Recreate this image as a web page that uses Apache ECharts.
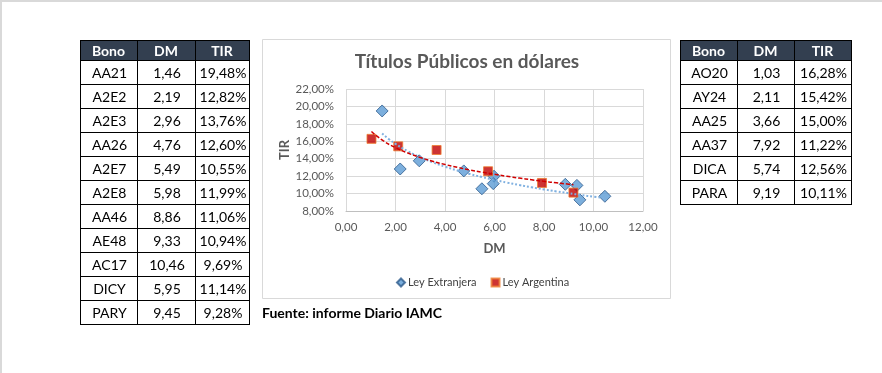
<!DOCTYPE html>
<html>
<head>
<meta charset="utf-8">
<script src="https://cdn.jsdelivr.net/npm/echarts@6/dist/echarts.min.js"></script>
<style>
html,body{margin:0;padding:0;background:#fff;}
#c{width:882px;height:373px;}
</style>
</head>
<body>
<div id="c"></div>
<script>
// ---- Data ----
const tableHeaders = ['Bono', 'DM', 'TIR'];
const bonosExt = ['AA21', 'A2E2', 'A2E3', 'AA26', 'A2E7', 'A2E8', 'AA46', 'AE48', 'AC17', 'DICY', 'PARY'];
const dmExt = [1.46, 2.19, 2.96, 4.76, 5.49, 5.98, 8.86, 9.33, 10.46, 5.95, 9.45];
const tirExt = [19.48, 12.82, 13.76, 12.60, 10.55, 11.99, 11.06, 10.94, 9.69, 11.14, 9.28];
const bonosArg = ['AO20', 'AY24', 'AA25', 'AA37', 'DICA', 'PARA'];
const dmArg = [1.03, 2.11, 3.66, 7.92, 5.74, 9.19];
const tirArg = [16.28, 15.42, 15.00, 11.22, 12.56, 10.11];
// trend lines (Excel log trendlines)
const trendExtX = [1.46, 1.75, 2, 2.5, 3, 3.5, 4, 4.5, 5, 5.5, 6, 6.5, 7, 7.5, 8, 8.5, 9, 9.5, 10, 10.46];
const trendExtY = [16.89, 16.20, 15.70, 14.86, 14.17, 13.59, 13.09, 12.65, 12.25, 11.89, 11.56, 11.26, 10.98, 10.72, 10.48, 10.25, 10.04, 9.83, 9.64, 9.47];
const trendArgX = [1.03, 1.5, 2, 2.5, 3, 3.5, 4, 4.5, 5, 5.5, 6, 6.5, 7, 7.5, 8, 8.5, 9, 9.19];
const trendArgY = [17.12, 16.07, 15.27, 14.65, 14.14, 13.71, 13.34, 13.01, 12.71, 12.45, 12.21, 11.98, 11.78, 11.58, 11.40, 11.23, 11.08, 11.02];
const chartTitle = 'Títulos Públicos en dólares';
const sourceText = 'Fuente: informe Diario IAMC';
const legendNames = ['Ley Extranjera', 'Ley Argentina'];

// ---- Helpers ----
const FONT = 'Lato, "Liberation Sans", sans-serif';
const fmtNum = v => v.toFixed(2).replace('.', ',');
const fmtPct = v => fmtNum(v) + '%';

function buildTable(colEdges, y0, headerH, rowH, rows) {
  const els = [];
  const width = colEdges[colEdges.length - 1] - colEdges[0];
  const totalH = headerH + rowH * rows.length;
  els.push({type: 'rect', shape: {x: colEdges[0], y: y0, width: width, height: headerH},
    style: {fill: '#333f50', stroke: null}, z: 10});
  tableHeaders.forEach((h, i) => {
    els.push({type: 'text', z: 12, style: {text: h, x: (colEdges[i] + colEdges[i + 1]) / 2, y: y0 + headerH / 2 + 1,
      textAlign: 'center', textVerticalAlign: 'middle', fill: '#ffffff', font: 'bold 14px ' + FONT}});
  });
  for (let r = 0; r <= rows.length; r++) {
    const yy = y0 + headerH + r * rowH + 0.5;
    els.push({type: 'line', z: 11, shape: {x1: colEdges[0], y1: yy, x2: colEdges[colEdges.length - 1], y2: yy},
      style: {stroke: '#000', lineWidth: 1}});
  }
  els.push({type: 'line', z: 11, shape: {x1: colEdges[0], y1: y0 + 0.5, x2: colEdges[colEdges.length - 1], y2: y0 + 0.5},
    style: {stroke: '#000', lineWidth: 1}});
  colEdges.forEach(cx => {
    els.push({type: 'line', z: 11, shape: {x1: cx + 0.5, y1: y0, x2: cx + 0.5, y2: y0 + totalH + 1},
      style: {stroke: '#000', lineWidth: 1}});
  });
  rows.forEach((row, r) => {
    row.forEach((t, i) => {
      els.push({type: 'text', z: 12, style: {text: t, x: (colEdges[i] + colEdges[i + 1]) / 2 + 1,
        y: y0 + headerH + r * rowH + rowH / 2 + 1, textAlign: 'center', textVerticalAlign: 'middle',
        fill: '#000', font: '14px ' + FONT}});
    });
  });
  return els;
}

const rowsExt = bonosExt.map((b, i) => [b, fmtNum(dmExt[i]), fmtPct(tirExt[i])]);
const rowsArg = bonosArg.map((b, i) => [b, fmtNum(dmArg[i]), fmtPct(tirArg[i])]);

const graphics = [
  {type: 'line', shape: {x1: 0, y1: 1, x2: 882, y2: 1}, style: {stroke: '#d9d9d9', lineWidth: 2}},
  {type: 'line', shape: {x1: 1, y1: 0, x2: 1, y2: 373}, style: {stroke: '#d9d9d9', lineWidth: 2}},
  {type: 'rect', z: -1, shape: {x: 262.5, y: 39.5, width: 408, height: 259}, style: {fill: '#fff', stroke: '#d9d9d9', lineWidth: 1}},
  {type: 'text', z: 5, style: {text: chartTitle, x: 467, y: 62, textAlign: 'center', textVerticalAlign: 'middle',
    fill: '#595959', font: 'bold 19px ' + FONT}},
  {type: 'text', z: 5, style: {text: sourceText, x: 262, y: 313, textAlign: 'left', textVerticalAlign: 'middle',
    fill: '#000', font: 'bold 14px ' + FONT}}
].concat(buildTable([80, 137, 195, 249], 40, 20, 24, rowsExt))
 .concat(buildTable([680, 737, 794, 851], 40, 20, 24, rowsArg));

const chart = echarts.init(document.getElementById('c'), null, {renderer: 'canvas'});
chart.setOption({
  animation: false,
  backgroundColor: '#fff',
  textStyle: {fontFamily: FONT},
  grid: {left: 346, right: 239, top: 89, bottom: 162, containLabel: false},
  legend: {
    data: [
      {name: legendNames[0], icon: 'diamond'},
      {name: legendNames[1], icon: 'rect'}
    ],
    left: 391, top: 272, itemWidth: 8, itemHeight: 8, itemGap: 14,
    textStyle: {color: '#404040', fontSize: 11, fontFamily: FONT, padding: [0, 0, 0, -2]}
  },
  xAxis: {
    type: 'value', min: 0, max: 12, interval: 2,
    name: 'DM', nameLocation: 'middle', nameGap: 31,
    nameTextStyle: {color: '#595959', fontWeight: 'bold', fontSize: 13, fontFamily: FONT},
    axisLine: {show: true, lineStyle: {color: '#bfbfbf'}},
    axisTick: {show: false},
    axisLabel: {formatter: v => fmtNum(v), color: '#595959', fontSize: 11.5, margin: 10, fontFamily: FONT},
    splitLine: {show: true, lineStyle: {color: '#d9d9d9'}}
  },
  yAxis: {
    type: 'value', min: 8, max: 22, interval: 2,
    name: 'TIR', nameLocation: 'middle', nameGap: 53,
    nameTextStyle: {color: '#595959', fontWeight: 'bold', fontSize: 13, fontFamily: FONT},
    axisLine: {show: false},
    axisTick: {show: false},
    axisLabel: {formatter: v => fmtPct(v), color: '#595959', fontSize: 11.5, margin: 12, fontFamily: FONT},
    splitLine: {show: true, lineStyle: {color: '#d9d9d9'}}
  },
  series: [
    {
      name: legendNames[0], type: 'scatter', symbol: 'diamond', symbolSize: 12, z: 3,
      itemStyle: {color: '#5b9bd5', borderColor: '#2e5b8c', borderWidth: 1},
      data: dmExt.map((d, i) => [d, tirExt[i]])
    },
    {
      name: legendNames[1], type: 'scatter', symbol: 'rect', symbolSize: 9, z: 3,
      itemStyle: {color: '#c00000', borderColor: '#ed7d31', borderWidth: 1},
      data: dmArg.map((d, i) => [d, tirArg[i]])
    },
    {
      name: 'Tendencia Ext', type: 'line', smooth: true, showSymbol: false, symbol: 'none', z: 4,
      lineStyle: {color: '#7fb0e0', width: 2, type: [2, 2]},
      data: trendExtX.map((d, i) => [d, trendExtY[i]])
    },
    {
      name: 'Tendencia Arg', type: 'line', smooth: true, showSymbol: false, symbol: 'none', z: 4,
      lineStyle: {color: '#d00000', width: 1.5, type: [4, 2]},
      data: trendArgX.map((d, i) => [d, trendArgY[i]])
    }
  ],
  graphic: {elements: graphics}
});
</script>
</body>
</html>
